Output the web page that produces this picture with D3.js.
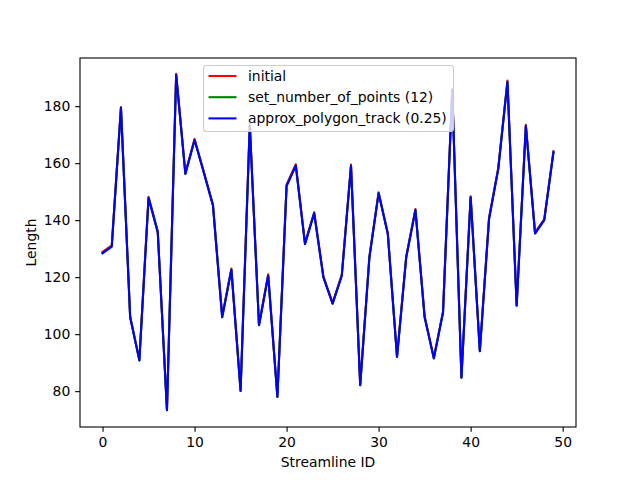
<!DOCTYPE html>
<html><head><meta charset="utf-8">
<script src="https://cdn.jsdelivr.net/npm/d3@7"></script>
<style>body{margin:0;background:#fff}svg{display:block}text{font-family:"DejaVu Sans",sans-serif}</style>
</head><body><svg id="c" width="640" height="480"></svg>
<script>
const ids = d3.range(0, 50);
const initial = [128.9,131.2,179.7,106.3,91.1,148.2,136.1,73.5,191.4,156.6,168.5,157.1,145.5,106.3,123.0,80.3,173.8,103.4,121.0,78.2,152.5,159.6,132.0,142.8,120.3,111.0,120.9,159.5,82.3,127.3,149.8,135.5,92.2,127.3,143.9,106.3,91.7,108.0,186.0,84.9,148.4,94.2,140.8,158.3,189.0,110.2,173.5,135.7,140.4,164.2];
const setNumber = [128.5,130.8,179.4,106.0,90.8,147.9,135.8,73.3,191.0,156.3,168.2,156.8,145.2,106.0,122.7,80.1,173.4,103.1,120.6,78.0,152.1,159.2,131.7,142.5,120.0,110.7,120.6,159.1,82.1,127.0,149.5,135.2,92.0,127.0,143.6,106.0,91.5,107.7,185.7,84.7,148.1,94.0,140.5,158.0,188.6,110.0,173.1,135.4,140.1,163.9];
const approx = [128.4,130.7,179.4,105.9,90.8,147.8,135.7,73.3,190.9,156.2,168.1,156.7,145.1,105.9,122.6,80.1,173.3,103.1,120.5,78.0,152.0,159.1,131.6,142.4,119.9,110.7,120.5,159.0,82.1,126.9,149.4,135.1,92.0,126.9,143.5,105.9,91.5,107.6,185.6,84.7,148.0,94.0,140.4,157.9,188.5,110.0,173.0,135.3,140.0,163.8];
const xTicks = [0,10,20,30,40,50];
const yTicks = [80,100,120,140,160,180];
const seriesNames = ["initial","set_number_of_points (12)","approx_polygon_track (0.25)"];
const seriesColors = ["red","green","blue"];
const seriesData = [initial, setNumber, approx];

const L=80,R=576,T=58,B=427;
const svg=d3.select("#c");
const x=d3.scaleLinear().domain([-2.45,51.45]).range([L,R]);
const y=d3.scaleLinear().domain([67.42,196.9]).range([B,T]);

const fs="13.9px";
const line=d3.line().x((d,i)=>x(ids[i])).y(d=>y(d));
seriesData.forEach((s,k)=>{
  svg.append("path").attr("d",line(s)).attr("fill","none")
    .attr("stroke",seriesColors[k]).attr("stroke-width",2.08)
    .attr("stroke-linejoin","round").attr("stroke-linecap","square");
});

const xa=svg.append("g").attr("transform",`translate(0,${B})`)
  .call(d3.axisBottom(x).tickValues(xTicks).tickSize(4.86).tickPadding(4.86).tickFormat(d3.format("d")));
const ya=svg.append("g").attr("transform",`translate(${L},0)`)
  .call(d3.axisLeft(y).tickValues(yTicks).tickSize(4.86).tickPadding(4.86).tickFormat(d3.format("d")));
[xa,ya].forEach(a=>{
  a.select(".domain").remove();
  a.selectAll("line").attr("stroke","#000").attr("stroke-width",1.1);
  a.selectAll("text").attr("font-size",fs).attr("fill","#000").attr("font-family","DejaVu Sans");
});
svg.append("rect").attr("x",L).attr("y",T).attr("width",R-L).attr("height",B-T)
  .attr("fill","none").attr("stroke","#000").attr("stroke-width",1.1);

svg.append("text").attr("x",(L+R)/2).attr("y",467).attr("text-anchor","middle")
  .attr("font-size",fs).text("Streamline ID");
svg.append("text").attr("transform",`translate(36,${(T+B)/2}) rotate(-90)`).attr("text-anchor","middle")
  .attr("font-size",fs).text("Length");

// legend
const lg=svg.append("g");
lg.append("rect").attr("x",203.5).attr("y",65.5).attr("width",250).attr("height",66).attr("rx",3)
  .attr("fill","#fff").attr("fill-opacity",0.8).attr("stroke","#ccc").attr("stroke-width",1.1);
seriesNames.forEach((n,k)=>{
  const yy=76+k*21.2;
  lg.append("line").attr("x1",208.5).attr("x2",236.5).attr("y1",yy).attr("y2",yy)
    .attr("stroke",seriesColors[k]).attr("stroke-width",2.08);
  lg.append("text").attr("x",248).attr("y",yy+5).attr("font-size",fs).text(n);
});
</script></body></html>
